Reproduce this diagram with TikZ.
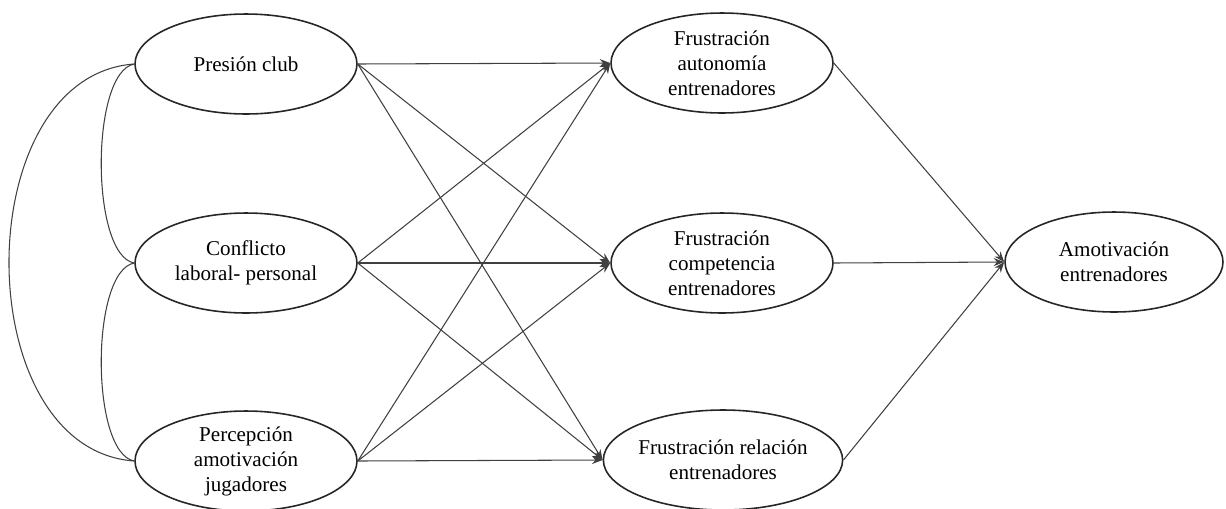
\documentclass[tikz,border=0pt]{standalone}
\usepackage{fontspec}
\setmainfont{Liberation Serif}
\usetikzlibrary{shapes.geometric,arrows.meta}

\begin{document}
\begin{tikzpicture}[x=0.02cm,y=-0.02cm,
    latent/.style={draw=black!85, line width=0.9pt, ellipse, inner sep=0pt,
      minimum width=4.44cm, minimum height=2cm, align=center,
      font=\fontsize{12}{14.2}\selectfont},
    effect/.style={draw=black!75, line width=0.6pt, -{Stealth[length=6pt,width=4.5pt]}},
    cov/.style={draw=black!75, line width=0.6pt}]
        \useasboundingbox (0,0) rectangle (1226,508);

        % Draw the predictors
        \node[latent] (pc) at (246,64) {Presión club};
        \node[latent] (cl) at (246,263) {Conflicto\\laboral- personal};
        \node[latent] (pa) at (246,461) {Percepción\\amotivación\\jugadores};

        % Draw the frustration ellipses
        \node[latent] (fa) at (722,63) {Frustración\\autonomía\\entrenadores};
        \node[latent] (fc) at (722,263) {Frustración\\competencia\\entrenadores};
        \node[latent] (fr) at (723,460) {Frustración relación\\entrenadores};

        % Draw the outcome
        \node[latent, minimum width=4.36cm] (am) at (1114,262) {Amotivación\\entrenadores};

        % Draw the covariances
        \draw[cov] (pc.west) .. controls +(-44,8) and +(-44,-8) .. (cl.west); % Upper pair
        \draw[cov] (cl.west) .. controls +(-44,8) and +(-44,-8) .. (pa.west); % Lower pair
        \draw[cov] (pc.west) .. controls +(-167,12) and +(-167,-12) .. (pa.west); % Outer pair

        % Draw the paths to the frustration ellipses
        \foreach \a in {pc,cl,pa}
            \foreach \b in {fa,fc,fr}
                \draw[effect] (\a.east) -- (\b.west);

        % Draw the paths to the outcome
        \foreach \b in {fa,fc,fr}
            \draw[effect] (\b.east) -- (am.west);

\end{tikzpicture}
\end{document}
